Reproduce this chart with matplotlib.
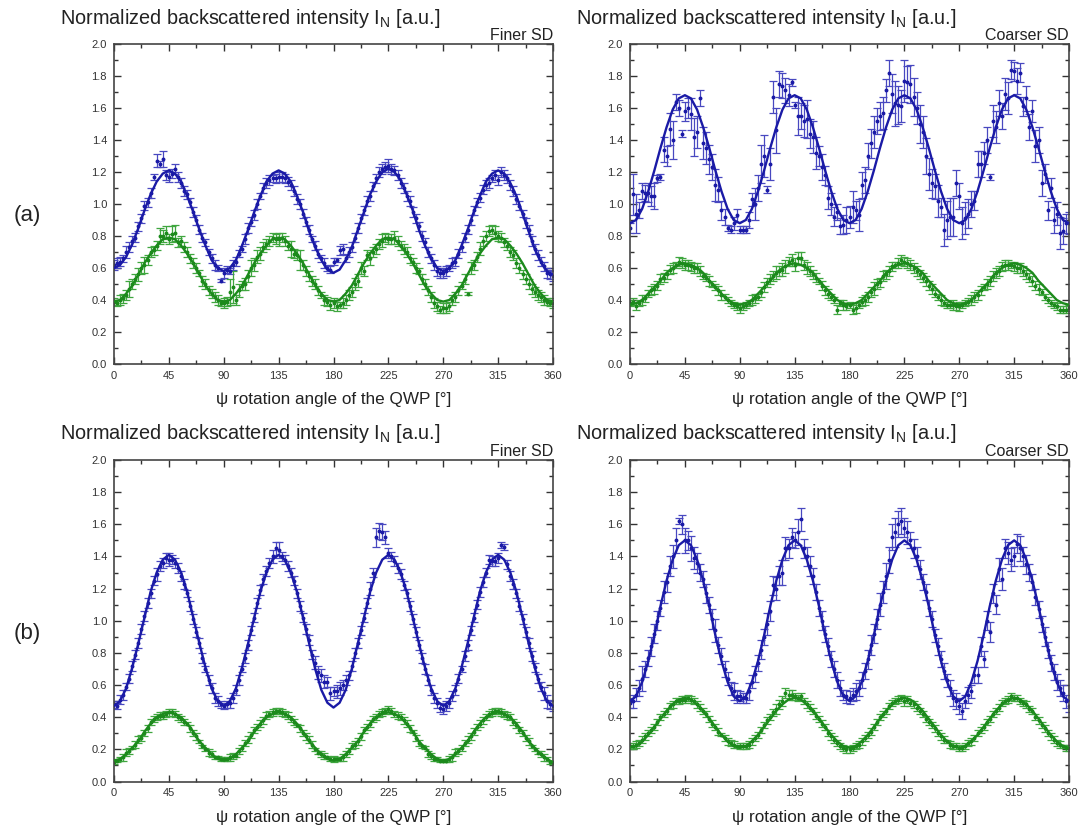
import numpy as np
import matplotlib
matplotlib.use("Agg")
import matplotlib.pyplot as plt
from matplotlib.ticker import MultipleLocator, FormatStrFormatter

plt.rcParams['font.family'] = ['Liberation Sans', 'DejaVu Sans']

# ---------------- data ----------------
psi = list(range(0, 361, 5))                       # measured angles (deg)
psi_mid = [x + 2.5 for x in range(0, 360, 5)]      # intermediate measured angles
psi_fit = list(range(0, 361, 5))                   # fitted curve samples

# ===== (a) Finer SD =====
a_fine_blue = [0.62, 0.64, 0.70, 0.77, 0.86, 0.99, 1.07, 1.27, 1.28, 1.17, 1.22, 1.13, 1.06, 0.95, 0.84, 0.76, 0.66, 0.60, 0.57,
               0.58, 0.64, 0.72, 0.85, 0.93, 1.05, 1.13, 1.16, 1.17, 1.16, 1.12, 1.03, 0.94, 0.84, 0.74, 0.66, 0.60,
               0.64, 0.71, 0.66, 0.73, 0.85, 0.96, 1.05, 1.16, 1.22, 1.24, 1.21, 1.13, 1.05, 0.95, 0.86, 0.76, 0.66, 0.58, 0.57,
               0.60, 0.64, 0.73, 0.84, 0.96, 1.04, 1.12, 1.16, 1.15, 1.18, 1.12, 1.03, 0.94, 0.84, 0.72, 0.64, 0.57, 0.55]
a_fine_blue_err = [0.03, 0.03, 0.04, 0.03, 0.03, 0.03, 0.03, 0.04, 0.05, 0.03, 0.03, 0.03, 0.03, 0.03, 0.03, 0.02, 0.03, 0.02, 0.03,
                   0.02, 0.03, 0.02, 0.03, 0.03, 0.02, 0.03, 0.02, 0.03, 0.03, 0.03, 0.03, 0.03, 0.03, 0.03, 0.02, 0.02,
                   0.02, 0.03, 0.02, 0.03, 0.03, 0.03, 0.03, 0.03, 0.03, 0.04, 0.03, 0.03, 0.03, 0.03, 0.03, 0.03, 0.03, 0.03, 0.03,
                   0.02, 0.03, 0.03, 0.03, 0.03, 0.03, 0.03, 0.02, 0.03, 0.03, 0.03, 0.03, 0.02, 0.03, 0.03, 0.03, 0.03, 0.03]
a_fine_blue_mid = [0.63, 0.66, 0.73, 0.79, 0.91, 1.01, 1.17, 1.25, 1.18,
                   1.19, 1.17, 1.08, 1.01, 0.90, 0.79, 0.70, 0.62, 0.52,
                   0.59, 0.62, 0.69, 0.78, 0.89, 1.00, 1.10, 1.15, 1.16,
                   1.17, 1.14, 1.08, 1.00, 0.89, 0.78, 0.69, 0.63, 0.59,
                   0.65, 0.72, 0.70, 0.79, 0.91, 1.02, 1.11, 1.20, 1.23,
                   1.22, 1.18, 1.10, 1.02, 0.91, 0.80, 0.70, 0.62, 0.57,
                   0.58, 0.63, 0.69, 0.79, 0.90, 1.01, 1.09, 1.13, 1.18,
                   1.20, 1.16, 1.08, 0.99, 0.88, 0.77, 0.68, 0.61, 0.56]
a_fine_blue_mid_err = [0.03, 0.02, 0.03, 0.03, 0.03, 0.03, 0.02, 0.02, 0.03,
                       0.03, 0.03, 0.03, 0.03, 0.03, 0.03, 0.02, 0.03, 0.01,
                       0.02, 0.03, 0.02, 0.03, 0.03, 0.03, 0.03, 0.03, 0.03,
                       0.03, 0.03, 0.03, 0.03, 0.03, 0.02, 0.03, 0.03, 0.02,
                       0.01, 0.03, 0.03, 0.03, 0.03, 0.03, 0.03, 0.03, 0.03,
                       0.03, 0.03, 0.03, 0.03, 0.03, 0.03, 0.03, 0.03, 0.03,
                       0.03, 0.03, 0.03, 0.03, 0.03, 0.03, 0.03, 0.03, 0.03,
                       0.03, 0.03, 0.03, 0.03, 0.03, 0.03, 0.03, 0.03, 0.03]
a_fine_green = [0.39, 0.40, 0.43, 0.50, 0.56, 0.62, 0.70, 0.74, 0.80, 0.78, 0.82, 0.77, 0.70, 0.63, 0.57, 0.50, 0.44, 0.40, 0.38,
                0.45, 0.40, 0.49, 0.55, 0.62, 0.69, 0.75, 0.79, 0.78, 0.77, 0.72, 0.68, 0.62, 0.55, 0.50, 0.43, 0.39,
                0.38, 0.37, 0.40, 0.45, 0.52, 0.58, 0.66, 0.72, 0.77, 0.78, 0.79, 0.74, 0.70, 0.64, 0.58, 0.50, 0.42, 0.36, 0.35,
                0.36, 0.42, 0.49, 0.44, 0.62, 0.72, 0.80, 0.84, 0.80, 0.76, 0.70, 0.63, 0.56, 0.50, 0.45, 0.42, 0.39, 0.38]
a_fine_green_err = [0.02, 0.03, 0.03, 0.03, 0.04, 0.05, 0.03, 0.03, 0.04, 0.03, 0.05, 0.03, 0.03, 0.03, 0.02, 0.03, 0.03, 0.03, 0.03,
                    0.08, 0.03, 0.03, 0.04, 0.04, 0.04, 0.03, 0.03, 0.04, 0.03, 0.05, 0.03, 0.03, 0.03, 0.03, 0.02, 0.03,
                    0.03, 0.02, 0.03, 0.03, 0.04, 0.03, 0.04, 0.03, 0.04, 0.03, 0.04, 0.03, 0.03, 0.02, 0.02, 0.03, 0.03, 0.03, 0.03,
                    0.03, 0.03, 0.02, 0.01, 0.03, 0.04, 0.03, 0.03, 0.03, 0.03, 0.03, 0.03, 0.03, 0.03, 0.03, 0.03, 0.02, 0.03]
a_fine_green_mid = [0.38, 0.41, 0.47, 0.53, 0.60, 0.65, 0.71, 0.80, 0.82,
                    0.81, 0.76, 0.73, 0.66, 0.60, 0.52, 0.46, 0.42, 0.38,
                    0.39, 0.48, 0.46, 0.50, 0.60, 0.67, 0.73, 0.77, 0.78,
                    0.79, 0.74, 0.69, 0.65, 0.58, 0.52, 0.46, 0.40, 0.37,
                    0.36, 0.38, 0.43, 0.50, 0.60, 0.68, 0.70, 0.75, 0.79,
                    0.78, 0.77, 0.72, 0.66, 0.60, 0.53, 0.46, 0.38, 0.34,
                    0.35, 0.40, 0.46, 0.53, 0.60, 0.67, 0.77, 0.83, 0.82,
                    0.79, 0.74, 0.68, 0.60, 0.53, 0.47, 0.43, 0.40, 0.38]
a_fine_green_mid_err = [0.02, 0.03, 0.05, 0.03, 0.04, 0.03, 0.03, 0.05, 0.04,
                        0.05, 0.03, 0.03, 0.03, 0.03, 0.03, 0.03, 0.03, 0.02,
                        0.03, 0.10, 0.04, 0.04, 0.05, 0.04, 0.03, 0.03, 0.03,
                        0.03, 0.03, 0.03, 0.06, 0.03, 0.03, 0.03, 0.03, 0.03,
                        0.03, 0.03, 0.03, 0.04, 0.04, 0.03, 0.03, 0.03, 0.03,
                        0.03, 0.03, 0.03, 0.03, 0.03, 0.03, 0.03, 0.03, 0.02,
                        0.03, 0.03, 0.03, 0.03, 0.04, 0.03, 0.03, 0.03, 0.04,
                        0.03, 0.03, 0.03, 0.03, 0.03, 0.03, 0.03, 0.03, 0.02]
a_fine_blue_fit = [0.60, 0.62, 0.67, 0.75, 0.85, 0.96, 1.06, 1.14, 1.19, 1.21, 1.19, 1.14, 1.05, 0.95, 0.84, 0.74, 0.65, 0.60, 0.58,
                   0.60, 0.65, 0.74, 0.84, 0.95, 1.05, 1.14, 1.19, 1.21, 1.19, 1.14, 1.05, 0.95, 0.83, 0.73, 0.65, 0.59,
                   0.57, 0.59, 0.65, 0.73, 0.84, 0.95, 1.06, 1.14, 1.20, 1.22, 1.20, 1.15, 1.06, 0.96, 0.84, 0.74, 0.66, 0.60, 0.58,
                   0.60, 0.65, 0.74, 0.84, 0.95, 1.05, 1.14, 1.19, 1.21, 1.19, 1.13, 1.05, 0.94, 0.83, 0.72, 0.64, 0.58, 0.56]
a_fine_green_fit = [0.39, 0.40, 0.44, 0.49, 0.56, 0.63, 0.69, 0.74, 0.78, 0.79, 0.78, 0.74, 0.69, 0.63, 0.56, 0.49, 0.44, 0.40, 0.39,
                    0.40, 0.44, 0.49, 0.56, 0.63, 0.69, 0.74, 0.78, 0.79, 0.78, 0.74, 0.69, 0.63, 0.56, 0.49, 0.44, 0.40, 0.39,
                    0.40, 0.44, 0.49, 0.56, 0.63, 0.69, 0.74, 0.78, 0.79, 0.78, 0.74, 0.69, 0.63, 0.56, 0.49, 0.44, 0.40, 0.39,
                    0.40, 0.44, 0.49, 0.56, 0.63, 0.69, 0.74, 0.78, 0.79, 0.78, 0.74, 0.69, 0.63, 0.56, 0.49, 0.44, 0.40, 0.39]

# ===== (a) Coarser SD =====
a_coarse_blue = [0.85, 0.94, 1.08, 1.07, 1.05, 1.17, 1.30, 1.40, 1.60, 1.58, 1.56, 1.45, 1.38, 1.28, 1.12, 0.96, 0.85, 0.88, 0.84,
                 0.84, 1.03, 1.10, 1.30, 1.25, 1.46, 1.74, 1.68, 1.62, 1.55, 1.53, 1.42, 1.30, 1.18, 1.00, 0.95, 0.87,
                 0.92, 0.96, 1.12, 1.30, 1.45, 1.55, 1.71, 1.69, 1.62, 1.77, 1.75, 1.60, 1.45, 1.19, 1.11, 0.98, 0.90, 0.92, 1.05,
                 0.91, 1.00, 1.25, 1.32, 1.17, 1.48, 1.55, 1.66, 1.83, 1.82, 1.66, 1.58, 1.40, 1.19, 1.10, 0.94, 0.83, 0.88]
a_coarse_blue_err = [0.03, 0.12, 0.05, 0.06, 0.08, 0.02, 0.06, 0.12, 0.05, 0.06, 0.10, 0.10, 0.10, 0.09, 0.10, 0.06, 0.02, 0.04, 0.02,
                     0.02, 0.04, 0.08, 0.13, 0.10, 0.14, 0.08, 0.07, 0.02, 0.08, 0.12, 0.10, 0.06, 0.06, 0.07, 0.05, 0.06,
                     0.07, 0.06, 0.08, 0.08, 0.10, 0.09, 0.07, 0.12, 0.12, 0.13, 0.12, 0.10, 0.10, 0.10, 0.08, 0.06, 0.12, 0.12, 0.08,
                     0.10, 0.08, 0.08, 0.07, 0.02, 0.10, 0.08, 0.10, 0.06, 0.06, 0.08, 0.07, 0.08, 0.06, 0.06, 0.07, 0.08, 0.07]
a_coarse_blue_mid = [1.06, 0.96, 1.07, 1.05, 1.16, 1.34, 1.47, 1.64, 1.44,
                     1.60, 1.42, 1.66, 1.35, 1.23, 1.09, 0.92, 0.84, 0.93,
                     0.84, 0.90, 1.00, 1.25, 1.09, 1.67, 1.75, 1.71, 1.76,
                     1.55, 1.52, 1.44, 1.32, 1.23, 1.04, 0.92, 0.86, 0.90,
                     0.98, 0.93, 1.15, 1.38, 1.52, 1.57, 1.82, 1.63, 1.61,
                     1.76, 1.67, 1.50, 1.30, 1.13, 1.02, 0.84, 0.92, 1.13,
                     0.88, 0.94, 1.02, 1.25, 1.40, 1.52, 1.63, 1.69, 1.84,
                     1.77, 1.61, 1.48, 1.36, 1.13, 0.96, 0.90, 0.82, 0.88]
a_coarse_blue_mid_err = [0.13, 0.05, 0.05, 0.06, 0.02, 0.08, 0.10, 0.05, 0.02,
                         0.06, 0.12, 0.05, 0.10, 0.08, 0.08, 0.05, 0.02, 0.04,
                         0.02, 0.05, 0.10, 0.12, 0.02, 0.10, 0.08, 0.08, 0.02,
                         0.12, 0.10, 0.09, 0.10, 0.08, 0.07, 0.06, 0.05, 0.08,
                         0.10, 0.10, 0.08, 0.09, 0.08, 0.10, 0.08, 0.14, 0.10,
                         0.10, 0.12, 0.12, 0.11, 0.09, 0.10, 0.10, 0.12, 0.08,
                         0.10, 0.09, 0.06, 0.08, 0.08, 0.10, 0.08, 0.10, 0.06,
                         0.08, 0.06, 0.08, 0.10, 0.08, 0.06, 0.08, 0.10, 0.06]
a_coarse_green = [0.38, 0.36, 0.40, 0.44, 0.47, 0.53, 0.56, 0.60, 0.64, 0.62, 0.61, 0.60, 0.55, 0.52, 0.48, 0.43, 0.40, 0.37, 0.35,
                  0.37, 0.40, 0.42, 0.48, 0.53, 0.57, 0.59, 0.64, 0.62, 0.66, 0.60, 0.56, 0.52, 0.46, 0.42, 0.34, 0.37,
                  0.37, 0.35, 0.39, 0.42, 0.47, 0.51, 0.56, 0.61, 0.63, 0.64, 0.62, 0.58, 0.54, 0.49, 0.44, 0.40, 0.37, 0.37, 0.36,
                  0.38, 0.40, 0.43, 0.48, 0.52, 0.57, 0.61, 0.62, 0.61, 0.60, 0.56, 0.52, 0.47, 0.42, 0.38, 0.36, 0.34, 0.35]
a_coarse_green_err = [0.02, 0.02, 0.03, 0.02, 0.03, 0.03, 0.03, 0.03, 0.03, 0.03, 0.03, 0.03, 0.02, 0.03, 0.02, 0.03, 0.02, 0.02, 0.03,
                      0.02, 0.03, 0.02, 0.03, 0.03, 0.04, 0.04, 0.03, 0.04, 0.04, 0.04, 0.03, 0.02, 0.03, 0.02, 0.03, 0.03,
                      0.02, 0.03, 0.03, 0.03, 0.04, 0.03, 0.03, 0.03, 0.03, 0.03, 0.03, 0.03, 0.03, 0.03, 0.02, 0.03, 0.02, 0.03, 0.03,
                      0.02, 0.03, 0.03, 0.02, 0.03, 0.03, 0.03, 0.03, 0.03, 0.03, 0.03, 0.03, 0.03, 0.02, 0.02, 0.02, 0.02, 0.02]
a_coarse_green_mid = [0.39, 0.38, 0.41, 0.46, 0.49, 0.54, 0.59, 0.62, 0.63,
                      0.62, 0.60, 0.58, 0.54, 0.50, 0.46, 0.42, 0.38, 0.36,
                      0.36, 0.38, 0.41, 0.45, 0.51, 0.55, 0.58, 0.61, 0.65,
                      0.66, 0.62, 0.58, 0.54, 0.49, 0.44, 0.40, 0.38, 0.36,
                      0.34, 0.37, 0.40, 0.45, 0.50, 0.55, 0.58, 0.62, 0.65,
                      0.63, 0.60, 0.56, 0.52, 0.47, 0.42, 0.38, 0.37, 0.36,
                      0.37, 0.39, 0.42, 0.46, 0.50, 0.55, 0.58, 0.62, 0.62,
                      0.60, 0.58, 0.54, 0.49, 0.45, 0.40, 0.37, 0.34, 0.34]
a_coarse_green_mid_err = [0.02, 0.02, 0.02, 0.03, 0.03, 0.03, 0.03, 0.02, 0.03,
                          0.03, 0.03, 0.03, 0.02, 0.02, 0.03, 0.02, 0.02, 0.02,
                          0.02, 0.02, 0.03, 0.03, 0.03, 0.03, 0.03, 0.04, 0.04,
                          0.04, 0.03, 0.03, 0.03, 0.03, 0.03, 0.02, 0.02, 0.02,
                          0.03, 0.02, 0.03, 0.03, 0.03, 0.03, 0.03, 0.02, 0.03,
                          0.03, 0.03, 0.03, 0.03, 0.03, 0.02, 0.02, 0.02, 0.02,
                          0.02, 0.02, 0.03, 0.03, 0.03, 0.03, 0.03, 0.03, 0.02,
                          0.03, 0.03, 0.03, 0.03, 0.02, 0.02, 0.02, 0.02, 0.02]
a_coarse_blue_fit = [0.88, 0.90, 0.97, 1.08, 1.21, 1.35, 1.48, 1.59, 1.66, 1.68, 1.66, 1.59, 1.48, 1.35, 1.21, 1.08, 0.97, 0.90, 0.88,
                     0.90, 0.97, 1.08, 1.21, 1.35, 1.48, 1.59, 1.66, 1.68, 1.66, 1.59, 1.48, 1.35, 1.21, 1.08, 0.97, 0.90, 0.88,
                     0.90, 0.97, 1.08, 1.21, 1.35, 1.48, 1.59, 1.66, 1.68, 1.66, 1.59, 1.48, 1.35, 1.21, 1.08, 0.97, 0.90, 0.88,
                     0.90, 0.97, 1.08, 1.21, 1.35, 1.48, 1.59, 1.66, 1.68, 1.66, 1.59, 1.48, 1.35, 1.21, 1.08, 0.97, 0.90, 0.88]
a_coarse_green_fit = [0.37, 0.38, 0.40, 0.44, 0.48, 0.52, 0.57, 0.60, 0.62, 0.63, 0.62, 0.60, 0.57, 0.52, 0.48, 0.44, 0.40, 0.38, 0.37,
                      0.38, 0.40, 0.44, 0.48, 0.52, 0.57, 0.60, 0.62, 0.63, 0.62, 0.60, 0.57, 0.52, 0.48, 0.44, 0.40, 0.38, 0.37,
                      0.38, 0.40, 0.44, 0.48, 0.52, 0.57, 0.60, 0.62, 0.63, 0.62, 0.60, 0.57, 0.52, 0.48, 0.44, 0.40, 0.38, 0.37,
                      0.38, 0.40, 0.44, 0.48, 0.52, 0.57, 0.60, 0.62, 0.63, 0.62, 0.60, 0.57, 0.52, 0.48, 0.44, 0.40, 0.38, 0.37]

# ===== (b) Finer SD =====
b_fine_blue = [0.48, 0.51, 0.59, 0.72, 0.86, 1.03, 1.17, 1.29, 1.36, 1.38, 1.36, 1.28, 1.17, 1.01, 0.86, 0.70, 0.58, 0.50, 0.47,
               0.49, 0.57, 0.70, 0.85, 1.02, 1.19, 1.31, 1.40, 1.44, 1.38, 1.30, 1.17, 1.02, 0.88, 0.74, 0.66, 0.62,
               0.56, 0.58, 0.63, 0.72, 0.86, 1.02, 1.20, 1.52, 1.55, 1.42, 1.37, 1.29, 1.17, 1.01, 0.85, 0.70, 0.57, 0.49, 0.45,
               0.49, 0.57, 0.70, 0.85, 1.02, 1.18, 1.30, 1.37, 1.39, 1.46, 1.28, 1.17, 1.01, 0.86, 0.71, 0.59, 0.50, 0.47]
b_fine_blue_err = [0.02, 0.03, 0.02, 0.03, 0.03, 0.03, 0.03, 0.04, 0.03, 0.04, 0.03, 0.03, 0.02, 0.03, 0.03, 0.02, 0.03, 0.03, 0.02,
                   0.03, 0.03, 0.02, 0.03, 0.03, 0.03, 0.03, 0.04, 0.05, 0.03, 0.03, 0.03, 0.03, 0.03, 0.04, 0.04, 0.03,
                   0.03, 0.04, 0.03, 0.03, 0.03, 0.03, 0.04, 0.06, 0.05, 0.03, 0.03, 0.03, 0.03, 0.03, 0.03, 0.03, 0.03, 0.03, 0.03,
                   0.03, 0.03, 0.02, 0.03, 0.03, 0.03, 0.03, 0.03, 0.03, 0.02, 0.03, 0.03, 0.03, 0.03, 0.03, 0.03, 0.04, 0.03]
b_fine_blue_mid = [0.47, 0.54, 0.64, 0.79, 0.95, 1.11, 1.25, 1.34, 1.39,
                   1.38, 1.33, 1.23, 1.09, 0.93, 0.77, 0.63, 0.52, 0.48,
                   0.48, 0.52, 0.63, 0.77, 0.94, 1.11, 1.26, 1.36, 1.45,
                   1.40, 1.34, 1.25, 1.09, 0.95, 0.79, 0.68, 0.62, 0.55,
                   0.56, 0.60, 0.66, 0.80, 0.94, 1.11, 1.30, 1.56, 1.52,
                   1.40, 1.33, 1.22, 1.09, 0.93, 0.77, 0.63, 0.52, 0.46,
                   0.47, 0.53, 0.64, 0.78, 0.94, 1.10, 1.24, 1.38, 1.37,
                   1.47, 1.35, 1.23, 1.09, 0.93, 0.78, 0.64, 0.55, 0.48]
b_fine_blue_mid_err = [0.02, 0.03, 0.03, 0.03, 0.03, 0.03, 0.03, 0.03, 0.03,
                       0.03, 0.03, 0.03, 0.03, 0.03, 0.03, 0.03, 0.03, 0.02,
                       0.02, 0.03, 0.03, 0.03, 0.03, 0.03, 0.03, 0.03, 0.04,
                       0.03, 0.03, 0.03, 0.03, 0.03, 0.03, 0.04, 0.04, 0.04,
                       0.04, 0.03, 0.03, 0.03, 0.03, 0.03, 0.03, 0.05, 0.04,
                       0.03, 0.03, 0.03, 0.03, 0.03, 0.03, 0.03, 0.03, 0.03,
                       0.03, 0.03, 0.03, 0.03, 0.03, 0.03, 0.03, 0.03, 0.03,
                       0.02, 0.03, 0.03, 0.03, 0.03, 0.03, 0.03, 0.04, 0.03]
b_fine_green = [0.12, 0.14, 0.18, 0.21, 0.26, 0.30, 0.37, 0.40, 0.41, 0.43, 0.42, 0.39, 0.36, 0.30, 0.25, 0.20, 0.17, 0.15, 0.14,
                0.15, 0.16, 0.21, 0.26, 0.32, 0.36, 0.41, 0.43, 0.44, 0.42, 0.39, 0.35, 0.30, 0.26, 0.20, 0.17, 0.15,
                0.14, 0.14, 0.17, 0.22, 0.25, 0.32, 0.36, 0.40, 0.43, 0.45, 0.42, 0.40, 0.36, 0.31, 0.24, 0.21, 0.16, 0.14, 0.13,
                0.14, 0.18, 0.21, 0.26, 0.31, 0.36, 0.40, 0.43, 0.44, 0.42, 0.40, 0.35, 0.30, 0.25, 0.20, 0.17, 0.14, 0.12]
b_fine_green_err = [0.01, 0.01, 0.02, 0.01, 0.02, 0.02, 0.02, 0.02, 0.02, 0.02, 0.02, 0.02, 0.01, 0.02, 0.01, 0.01, 0.02, 0.01, 0.01,
                    0.02, 0.01, 0.02, 0.02, 0.02, 0.02, 0.02, 0.02, 0.02, 0.02, 0.02, 0.01, 0.02, 0.02, 0.01, 0.02, 0.01,
                    0.02, 0.01, 0.02, 0.02, 0.02, 0.02, 0.02, 0.02, 0.02, 0.02, 0.02, 0.02, 0.02, 0.01, 0.02, 0.01, 0.02, 0.01, 0.01,
                    0.02, 0.02, 0.02, 0.02, 0.02, 0.02, 0.02, 0.02, 0.02, 0.02, 0.02, 0.02, 0.02, 0.02, 0.01, 0.02, 0.01, 0.01]
b_fine_green_mid = [0.13, 0.15, 0.19, 0.23, 0.27, 0.33, 0.39, 0.41, 0.42,
                    0.43, 0.40, 0.37, 0.33, 0.28, 0.22, 0.18, 0.15, 0.14,
                    0.14, 0.16, 0.19, 0.24, 0.29, 0.34, 0.38, 0.42, 0.44,
                    0.43, 0.41, 0.37, 0.33, 0.28, 0.23, 0.18, 0.16, 0.14,
                    0.14, 0.15, 0.19, 0.23, 0.28, 0.34, 0.39, 0.42, 0.44,
                    0.44, 0.41, 0.38, 0.33, 0.27, 0.22, 0.17, 0.14, 0.13,
                    0.13, 0.15, 0.19, 0.24, 0.28, 0.34, 0.38, 0.42, 0.44,
                    0.43, 0.41, 0.37, 0.32, 0.27, 0.22, 0.18, 0.15, 0.12]
b_fine_green_mid_err = [0.01, 0.02, 0.02, 0.02, 0.02, 0.02, 0.02, 0.02, 0.02,
                        0.02, 0.02, 0.02, 0.02, 0.02, 0.01, 0.02, 0.01, 0.01,
                        0.01, 0.02, 0.02, 0.02, 0.02, 0.02, 0.02, 0.02, 0.02,
                        0.02, 0.02, 0.02, 0.02, 0.02, 0.02, 0.01, 0.02, 0.01,
                        0.01, 0.02, 0.02, 0.02, 0.02, 0.02, 0.02, 0.02, 0.02,
                        0.02, 0.02, 0.02, 0.02, 0.02, 0.01, 0.02, 0.01, 0.01,
                        0.01, 0.02, 0.02, 0.02, 0.02, 0.02, 0.02, 0.02, 0.02,
                        0.02, 0.02, 0.02, 0.02, 0.02, 0.01, 0.01, 0.02, 0.01]
b_fine_blue_fit = [0.47, 0.50, 0.58, 0.71, 0.86, 1.02, 1.18, 1.30, 1.38, 1.41, 1.38, 1.30, 1.18, 1.02, 0.86, 0.71, 0.58, 0.50, 0.47,
                   0.50, 0.58, 0.71, 0.86, 1.02, 1.18, 1.30, 1.38, 1.41, 1.38, 1.30, 1.18, 1.02, 0.86, 0.70, 0.57, 0.49, 0.46,
                   0.49, 0.57, 0.70, 0.86, 1.02, 1.18, 1.30, 1.38, 1.41, 1.38, 1.30, 1.18, 1.02, 0.86, 0.71, 0.58, 0.50, 0.47,
                   0.50, 0.58, 0.71, 0.86, 1.02, 1.18, 1.30, 1.38, 1.41, 1.38, 1.30, 1.18, 1.02, 0.86, 0.71, 0.58, 0.50, 0.47]
b_fine_green_fit = [0.13, 0.14, 0.17, 0.21, 0.25, 0.31, 0.36, 0.40, 0.42, 0.43, 0.42, 0.40, 0.36, 0.31, 0.25, 0.21, 0.17, 0.14, 0.13,
                    0.14, 0.17, 0.21, 0.25, 0.31, 0.36, 0.40, 0.42, 0.43, 0.42, 0.40, 0.36, 0.31, 0.25, 0.21, 0.17, 0.14, 0.13,
                    0.14, 0.17, 0.21, 0.25, 0.31, 0.36, 0.40, 0.42, 0.43, 0.42, 0.40, 0.36, 0.31, 0.25, 0.21, 0.17, 0.14, 0.13,
                    0.14, 0.17, 0.21, 0.25, 0.31, 0.36, 0.40, 0.42, 0.43, 0.42, 0.40, 0.36, 0.31, 0.25, 0.21, 0.17, 0.14, 0.12]

# ===== (b) Coarser SD =====
b_coarse_blue = [0.49, 0.54, 0.64, 0.77, 0.92, 1.08, 1.24, 1.40, 1.62, 1.50, 1.45, 1.36, 1.26, 1.10, 0.94, 0.78, 0.64, 0.56, 0.53,
                 0.52, 0.62, 0.74, 0.90, 1.06, 1.20, 1.30, 1.45, 1.50, 1.63, 1.40, 1.28, 1.08, 0.92, 0.76, 0.63, 0.54,
                 0.52, 0.56, 0.63, 0.76, 0.92, 1.10, 1.28, 1.52, 1.60, 1.58, 1.50, 1.40, 1.24, 1.08, 0.91, 0.76, 0.63, 0.52, 0.47,
                 0.50, 0.56, 0.66, 0.76, 0.93, 1.10, 1.26, 1.42, 1.40, 1.45, 1.35, 1.24, 1.07, 0.90, 0.74, 0.62, 0.55, 0.47]
b_coarse_blue_err = [0.03, 0.04, 0.08, 0.05, 0.06, 0.05, 0.06, 0.07, 0.02, 0.08, 0.08, 0.06, 0.05, 0.05, 0.07, 0.05, 0.04, 0.05, 0.03,
                     0.03, 0.04, 0.05, 0.05, 0.06, 0.07, 0.08, 0.06, 0.05, 0.07, 0.06, 0.05, 0.05, 0.05, 0.05, 0.05, 0.03,
                     0.04, 0.05, 0.05, 0.06, 0.06, 0.07, 0.08, 0.08, 0.08, 0.06, 0.05, 0.06, 0.05, 0.05, 0.04, 0.05, 0.04, 0.05, 0.05,
                     0.04, 0.04, 0.05, 0.05, 0.06, 0.06, 0.07, 0.07, 0.06, 0.08, 0.06, 0.05, 0.05, 0.06, 0.05, 0.05, 0.05, 0.04]
b_coarse_blue_mid = [0.50, 0.58, 0.70, 0.84, 1.00, 1.18, 1.34, 1.50, 1.60,
                     1.50, 1.39, 1.30, 1.17, 1.01, 0.85, 0.70, 0.58, 0.53,
                     0.52, 0.56, 0.67, 0.82, 0.98, 1.22, 1.28, 1.45, 1.52,
                     1.55, 1.45, 1.34, 1.18, 1.00, 0.84, 0.70, 0.58, 0.53,
                     0.54, 0.58, 0.69, 0.85, 1.01, 1.18, 1.38, 1.55, 1.62,
                     1.55, 1.45, 1.32, 1.18, 1.01, 0.84, 0.69, 0.58, 0.50,
                     0.44, 0.54, 0.66, 0.84, 1.00, 1.17, 1.32, 1.45, 1.38,
                     1.48, 1.40, 1.30, 1.15, 0.98, 0.82, 0.68, 0.58, 0.50]
b_coarse_blue_mid_err = [0.04, 0.05, 0.05, 0.06, 0.06, 0.07, 0.06, 0.08, 0.06,
                         0.06, 0.07, 0.05, 0.06, 0.06, 0.05, 0.05, 0.04, 0.04,
                         0.03, 0.05, 0.05, 0.06, 0.07, 0.06, 0.06, 0.07, 0.06,
                         0.08, 0.06, 0.06, 0.05, 0.06, 0.05, 0.05, 0.05, 0.04,
                         0.04, 0.05, 0.05, 0.06, 0.06, 0.07, 0.08, 0.09, 0.08,
                         0.07, 0.06, 0.06, 0.05, 0.05, 0.05, 0.05, 0.05, 0.05,
                         0.05, 0.05, 0.05, 0.06, 0.06, 0.06, 0.07, 0.06, 0.07,
                         0.06, 0.06, 0.05, 0.05, 0.05, 0.05, 0.05, 0.05, 0.04]
b_coarse_green = [0.22, 0.23, 0.26, 0.30, 0.34, 0.40, 0.44, 0.48, 0.50, 0.51, 0.51, 0.48, 0.44, 0.39, 0.34, 0.29, 0.25, 0.23, 0.22,
                  0.22, 0.25, 0.29, 0.35, 0.40, 0.45, 0.50, 0.54, 0.53, 0.53, 0.48, 0.44, 0.39, 0.34, 0.28, 0.24, 0.21,
                  0.20, 0.22, 0.25, 0.29, 0.34, 0.40, 0.44, 0.49, 0.51, 0.50, 0.49, 0.46, 0.42, 0.37, 0.33, 0.28, 0.25, 0.22, 0.21,
                  0.22, 0.25, 0.30, 0.34, 0.39, 0.44, 0.49, 0.51, 0.52, 0.50, 0.48, 0.44, 0.38, 0.33, 0.28, 0.24, 0.22, 0.21]
b_coarse_green_err = [0.02, 0.02, 0.02, 0.02, 0.02, 0.02, 0.02, 0.02, 0.02, 0.02, 0.02, 0.02, 0.02, 0.02, 0.02, 0.01, 0.02, 0.02, 0.02,
                      0.02, 0.02, 0.02, 0.02, 0.02, 0.03, 0.03, 0.03, 0.02, 0.02, 0.02, 0.02, 0.02, 0.02, 0.02, 0.02, 0.02,
                      0.02, 0.02, 0.02, 0.02, 0.02, 0.02, 0.02, 0.02, 0.02, 0.03, 0.02, 0.02, 0.02, 0.02, 0.02, 0.02, 0.01, 0.02, 0.02,
                      0.02, 0.02, 0.02, 0.02, 0.02, 0.02, 0.02, 0.02, 0.02, 0.02, 0.02, 0.02, 0.02, 0.02, 0.02, 0.02, 0.01, 0.02]
b_coarse_green_mid = [0.22, 0.24, 0.28, 0.32, 0.37, 0.42, 0.47, 0.50, 0.51,
                      0.52, 0.50, 0.46, 0.42, 0.36, 0.31, 0.27, 0.24, 0.22,
                      0.22, 0.23, 0.27, 0.32, 0.38, 0.43, 0.48, 0.55, 0.54,
                      0.52, 0.50, 0.46, 0.41, 0.36, 0.30, 0.26, 0.22, 0.20,
                      0.21, 0.23, 0.27, 0.31, 0.37, 0.42, 0.47, 0.50, 0.52,
                      0.51, 0.48, 0.44, 0.39, 0.35, 0.30, 0.26, 0.23, 0.22,
                      0.21, 0.24, 0.27, 0.32, 0.37, 0.42, 0.46, 0.50, 0.53,
                      0.52, 0.49, 0.45, 0.40, 0.35, 0.30, 0.26, 0.23, 0.21]
b_coarse_green_mid_err = [0.02, 0.02, 0.02, 0.02, 0.02, 0.02, 0.02, 0.02, 0.02,
                          0.02, 0.02, 0.02, 0.02, 0.02, 0.02, 0.02, 0.02, 0.01,
                          0.02, 0.02, 0.02, 0.02, 0.02, 0.02, 0.03, 0.03, 0.03,
                          0.02, 0.02, 0.02, 0.02, 0.02, 0.02, 0.02, 0.02, 0.02,
                          0.02, 0.02, 0.02, 0.02, 0.02, 0.02, 0.02, 0.02, 0.02,
                          0.02, 0.02, 0.02, 0.02, 0.02, 0.02, 0.02, 0.02, 0.02,
                          0.02, 0.02, 0.02, 0.02, 0.02, 0.02, 0.02, 0.02, 0.02,
                          0.02, 0.02, 0.02, 0.02, 0.02, 0.02, 0.02, 0.02, 0.02]
b_coarse_blue_fit = [0.50, 0.53, 0.62, 0.75, 0.91, 1.09, 1.25, 1.38, 1.47, 1.50, 1.47, 1.38, 1.25, 1.09, 0.91, 0.75, 0.62, 0.53, 0.50,
                     0.53, 0.62, 0.75, 0.91, 1.09, 1.25, 1.38, 1.47, 1.50, 1.47, 1.38, 1.25, 1.09, 0.91, 0.75, 0.62, 0.53, 0.50,
                     0.53, 0.62, 0.75, 0.91, 1.09, 1.25, 1.38, 1.47, 1.50, 1.47, 1.38, 1.25, 1.09, 0.91, 0.75, 0.62, 0.53, 0.50,
                     0.53, 0.62, 0.75, 0.91, 1.09, 1.25, 1.38, 1.47, 1.50, 1.47, 1.38, 1.25, 1.09, 0.91, 0.75, 0.62, 0.53, 0.50]
b_coarse_green_fit = [0.21, 0.22, 0.25, 0.29, 0.34, 0.39, 0.44, 0.48, 0.51, 0.52, 0.51, 0.48, 0.44, 0.39, 0.34, 0.29, 0.25, 0.22, 0.21,
                      0.22, 0.25, 0.29, 0.34, 0.39, 0.44, 0.48, 0.51, 0.52, 0.51, 0.48, 0.44, 0.39, 0.34, 0.29, 0.25, 0.22, 0.21,
                      0.22, 0.25, 0.29, 0.34, 0.39, 0.44, 0.48, 0.51, 0.52, 0.51, 0.48, 0.44, 0.39, 0.34, 0.29, 0.25, 0.22, 0.21,
                      0.22, 0.25, 0.29, 0.34, 0.39, 0.44, 0.48, 0.51, 0.52, 0.51, 0.48, 0.44, 0.39, 0.34, 0.29, 0.25, 0.22, 0.21]

title_text = r"Normalized backscattered intensity I$_{\mathregular{N}}$ [a.u.]"
xlabel_text = "\u03c8 rotation angle of the QWP [\u00b0]"
x_ticks = [0, 45, 90, 135, 180, 225, 270, 315, 360]
panel_tags = ["Finer SD", "Coarser SD"]
row_labels = ["(a)", "(b)"]

BLUE = "#1a1aa6"
BLUE_ERR = "#4848c0"
GREEN = "#1c8a1c"
GREEN_ERR = "#3fa63f"

panels = [
    dict(pos=[114, 44, 553, 364], tag=panel_tags[0],
         series=[(a_fine_blue, a_fine_blue_err, a_fine_blue_mid, a_fine_blue_mid_err, a_fine_blue_fit, BLUE, BLUE_ERR),
                 (a_fine_green, a_fine_green_err, a_fine_green_mid, a_fine_green_mid_err, a_fine_green_fit, GREEN, GREEN_ERR)]),
    dict(pos=[630, 44, 1069, 364], tag=panel_tags[1],
         series=[(a_coarse_blue, a_coarse_blue_err, a_coarse_blue_mid, a_coarse_blue_mid_err, a_coarse_blue_fit, BLUE, BLUE_ERR),
                 (a_coarse_green, a_coarse_green_err, a_coarse_green_mid, a_coarse_green_mid_err, a_coarse_green_fit, GREEN, GREEN_ERR)]),
    dict(pos=[114, 460, 553, 781.5], tag=panel_tags[0],
         series=[(b_fine_blue, b_fine_blue_err, b_fine_blue_mid, b_fine_blue_mid_err, b_fine_blue_fit, BLUE, BLUE_ERR),
                 (b_fine_green, b_fine_green_err, b_fine_green_mid, b_fine_green_mid_err, b_fine_green_fit, GREEN, GREEN_ERR)]),
    dict(pos=[630, 460, 1069, 781.5], tag=panel_tags[1],
         series=[(b_coarse_blue, b_coarse_blue_err, b_coarse_blue_mid, b_coarse_blue_mid_err, b_coarse_blue_fit, BLUE, BLUE_ERR),
                 (b_coarse_green, b_coarse_green_err, b_coarse_green_mid, b_coarse_green_mid_err, b_coarse_green_fit, GREEN, GREEN_ERR)]),
]

W, H = 1080, 827
fig = plt.figure(figsize=(W / 100, H / 100), dpi=100)

for p in panels:
    x0, y0, x1, y1 = p["pos"]
    ax = fig.add_axes([x0 / W, 1 - y1 / H, (x1 - x0) / W, (y1 - y0) / H])
    for y, e, ym, em, fit, c, ce in p["series"]:
        xs = psi + psi_mid
        ys = list(y) + list(ym)
        es = list(e) + list(em)
        ax.errorbar(xs, ys, yerr=es, fmt='o', ms=1.8, color=c, ecolor=ce,
                    elinewidth=0.9, capsize=3.0, capthick=0.9, zorder=2)
        ax.plot(psi_fit, fit, color=c, lw=1.7, zorder=3)
    ax.set_xlim(0, 360)
    ax.set_ylim(0, 2.0)
    ax.set_xticks(x_ticks)
    ax.xaxis.set_minor_locator(MultipleLocator(22.5))
    ax.yaxis.set_major_locator(MultipleLocator(0.2))
    ax.yaxis.set_minor_locator(MultipleLocator(0.1))
    ax.yaxis.set_major_formatter(FormatStrFormatter('%.1f'))
    ax.tick_params(which='both', direction='in', top=True, right=True,
                   color='#333333', labelsize=8, labelcolor='#333333')
    ax.tick_params(which='major', length=5, width=1.0, pad=5)
    ax.tick_params(which='minor', length=3, width=1.0)
    for s in ax.spines.values():
        s.set_color('#444444')
        s.set_linewidth(1.2)
    ax.set_xlabel(xlabel_text, fontsize=12.3, color='#222222', labelpad=8)
    fig.text((x0 - 54) / W, 1 - (y0 - 26) / H, title_text, fontsize=14.3,
             ha='left', va='center', color='#222222')
    fig.text(x1 / W, 1 - (y0 - 9) / H, p["tag"], fontsize=11.5,
             ha='right', va='center', color='#222222')

fig.text(27 / W, 1 - 215 / H, row_labels[0], fontsize=16, ha='center', va='center', color='#222222')
fig.text(27 / W, 1 - 633 / H, row_labels[1], fontsize=16, ha='center', va='center', color='#222222')

fig.savefig("out.png", dpi=100)
